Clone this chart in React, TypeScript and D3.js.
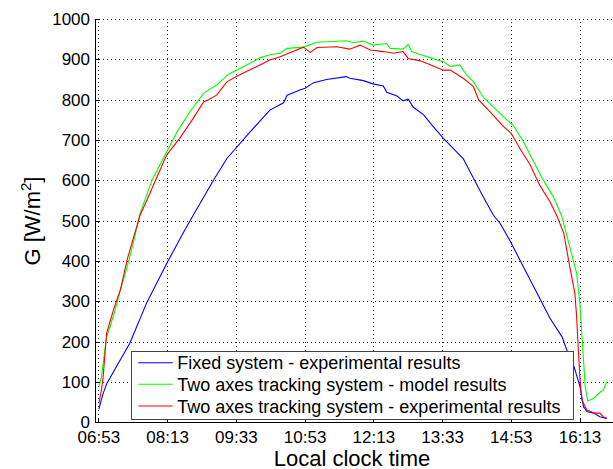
import React from 'react';
import * as d3 from 'd3';

// times are minutes after midnight, values in W/m2
const fixedTimes = [413, 418, 422, 435, 449, 469, 493, 513, 523, 546, 562, 589, 612, 628, 632, 647, 653, 663, 678, 701, 705, 721, 732, 744, 748, 760, 767, 773, 779, 791, 799, 814, 829, 837, 849, 859, 872, 880, 891, 907, 923, 938, 952, 958, 966, 973, 977, 981, 989, 996, 1004];
const fixedValues = [34, 73, 96, 145, 197, 299, 399, 478, 515, 600, 655, 721, 775, 793, 812, 825, 829, 843, 851, 858, 854, 848, 840, 835, 819, 810, 798, 802, 782, 763, 742, 705, 672, 655, 606, 565, 515, 494, 453, 387, 321, 259, 213, 178, 139, 89, 40, 28, 24, 15, 11];

const modelTimes = [413, 416, 422, 426, 432, 438, 445, 453, 461, 475, 492, 504, 519, 535, 550, 564, 585, 601, 612, 624, 632, 651, 667, 701, 709, 721, 732, 748, 752, 767, 773, 777, 787, 798, 814, 822, 833, 841, 849, 860, 872, 888, 895, 907, 919, 930, 942, 952, 961, 969, 973, 975, 977, 979, 982, 989, 996, 1000, 1004];
const modelValues = [89, 114, 213, 238, 280, 329, 379, 445, 519, 602, 672, 721, 771, 817, 837, 864, 887, 905, 912, 916, 928, 931, 943, 947, 942, 946, 936, 940, 928, 926, 938, 920, 913, 905, 895, 883, 887, 862, 845, 808, 783, 750, 738, 697, 647, 602, 560, 510, 436, 371, 290, 222, 156, 89, 54, 61, 75, 81, 102];

const trackTimes = [413, 416, 418, 422, 430, 438, 446, 461, 469, 480, 492, 507, 523, 535, 540, 550, 562, 573, 597, 612, 624, 651, 659, 667, 690, 705, 717, 729, 744, 756, 767, 773, 787, 798, 814, 822, 837, 849, 855, 868, 884, 893, 903, 915, 926, 938, 946, 954, 961, 967, 969, 971, 973, 975, 981, 989, 996, 1000, 1004];
const trackValues = [48, 81, 114, 222, 280, 329, 405, 515, 552, 606, 664, 705, 755, 796, 800, 812, 845, 858, 883, 899, 907, 931, 918, 930, 932, 926, 936, 924, 920, 916, 920, 903, 897, 888, 874, 874, 854, 833, 800, 771, 734, 717, 680, 639, 589, 548, 513, 470, 387, 321, 263, 180, 106, 57, 32, 24, 24, 15, 11];

const xTicks = [413, 493, 573, 653, 733, 813, 893, 973];
const yTicks = [0, 100, 200, 300, 400, 500, 600, 700, 800, 900, 1000];

const seriesNames = [
  'Fixed system - experimental results',
  'Two axes tracking system - model results',
  'Two axes tracking system - experimental results',
];
const seriesColors = ['#0000ff', '#00ff00', '#ff0000'];

const W = 613;
const H = 469;
const FONT = '"Liberation Sans", Arial, sans-serif';

const fmtTime = (m: number) => {
  const h = Math.floor(m / 60);
  const mm = m % 60;
  return `${String(h).padStart(2, '0')}:${String(mm).padStart(2, '0')}`;
};

export default function App() {
  const x = d3.scaleLinear().domain([408.5, 1012.5]).range([95, 614]);
  const y = d3.scaleLinear().domain([0, 1000]).range([422.8, 19.3]);

  const line = d3
    .line<[number, number]>()
    .x((d) => x(d[0]))
    .y((d) => y(d[1]));

  const series = [
    fixedTimes.map((t, i) => [t, fixedValues[i]] as [number, number]),
    modelTimes.map((t, i) => [t, modelValues[i]] as [number, number]),
    trackTimes.map((t, i) => [t, trackValues[i]] as [number, number]),
  ];

  const x0 = x.range()[0];
  const x1 = x.range()[1];
  const y0 = y(0);
  const yTop = y(1000);

  // legend box
  const lgLeft = 131.7;
  const lgTop = 351;
  const lgW = 442;
  const lgH = 68;
  const rowY = [362.7, 384.3, 406];

  return (
    <svg
      width={W}
      height={H}
      style={{ position: 'absolute', left: 0, top: 0, background: '#fff' }}
      fontFamily={FONT}
    >
      <rect width={W} height={H} fill="#fff" />

      {/* grid */}
      <g stroke="#222" strokeWidth={1} strokeDasharray="1 3" shapeRendering="crispEdges">
        {xTicks.map((t) => (
          <line key={'gx' + t} x1={x(t)} x2={x(t)} y1={y0} y2={yTop} />
        ))}
        {yTicks.map((v) => (
          <line key={'gy' + v} x1={x0} x2={x1} y1={y(v)} y2={y(v)} />
        ))}
      </g>

      {/* curves */}
      {series.map((s, i) => (
        <path key={i} d={line(s) ?? ''} fill="none" stroke={seriesColors[i]} strokeWidth={1.1} />
      ))}

      {/* axes */}
      <g stroke="#000" strokeWidth={1} shapeRendering="crispEdges">
        <line x1={x0} x2={x0} y1={yTop} y2={y0} />
        <line x1={x0} x2={x1} y1={y0} y2={y0} />
        {xTicks.map((t) => (
          <line key={'tx' + t} x1={x(t)} x2={x(t)} y1={y0} y2={y0 - 5} />
        ))}
        {yTicks.map((v) => (
          <line key={'ty' + v} x1={x0} x2={x0 + 5} y1={y(v)} y2={y(v)} />
        ))}
      </g>

      {/* tick labels */}
      <g fontSize={17} fill="#000">
        {xTicks.map((t) => (
          <text key={'lx' + t} x={x(t)} y={443} textAnchor="middle">
            {fmtTime(t)}
          </text>
        ))}
        {yTicks.map((v) => (
          <text key={'ly' + v} x={x0 - 5} y={y(v) + 5.5} textAnchor="end">
            {v}
          </text>
        ))}
      </g>

      {/* axis titles */}
      <text x={352} y={466} fontSize={22} textAnchor="middle" fill="#000">
        Local clock time
      </text>
      <text transform="translate(40,221) rotate(-90)" fontSize={22} textAnchor="middle" fill="#000">
        G [W/m<tspan fontSize={15} dy={-9}>2</tspan>
        <tspan dy={9}>]</tspan>
      </text>

      {/* legend */}
      <rect x={lgLeft} y={lgTop} width={lgW} height={lgH} fill="#fff" stroke="#444" strokeWidth={1} shapeRendering="crispEdges" />
      {seriesNames.map((name, i) => (
        <g key={name}>
          <line x1={138.3} x2={172.7} y1={rowY[i]} y2={rowY[i]} stroke={seriesColors[i]} strokeWidth={1.1} />
          <text x={177.3} y={rowY[i] + 6.5} fontSize={18} fill="#000">
            {name}
          </text>
        </g>
      ))}
    </svg>
  );
}
